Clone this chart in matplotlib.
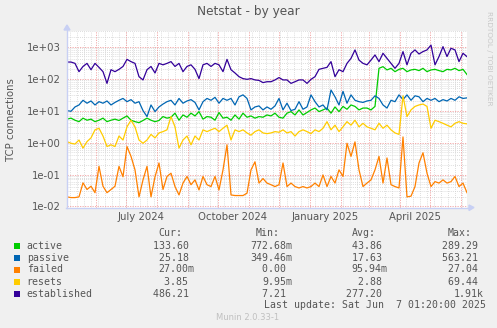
import matplotlib
matplotlib.use('Agg')
import matplotlib.pyplot as plt
import numpy as np
from matplotlib.lines import Line2D
from matplotlib.patches import Polygon, Rectangle

W, H = 497, 328

# 400 days ending at the last update, one sample every 4 days
start = np.datetime64('2024-05-03T01:20')
end = np.datetime64('2025-06-07T01:20')

established = [330, 330, 300, 165, 240, 300, 190, 300, 225, 165, 71, 190, 165, 195, 240, 400, 340, 300, 115, 91, 190, 240, 150, 300, 270,
               300, 340, 240, 300, 165, 240, 270, 195, 100, 270, 300, 240, 300, 270, 165, 400, 190, 150, 115, 100, 95, 100, 91, 88, 75,
               80, 80, 91, 108, 91, 91, 71, 80, 91, 91, 71, 95, 115, 195, 210, 225, 340, 115, 190, 165, 300, 430, 790, 380, 300,
               270, 380, 550, 340, 620, 430, 300, 210, 300, 700, 270, 620, 790, 590, 700, 790, 1120, 270, 490, 1000, 490, 890, 790, 340, 620, 486]
passive = [10, 9.5, 13, 15, 21, 17, 20, 15, 19, 17, 20, 15, 18, 21, 24, 19, 22, 17, 19, 10, 6.5, 15, 9.3, 13, 16,
           19, 21, 15, 24, 17, 20, 22, 18, 10.5, 19, 24, 21, 26, 17, 24, 21, 24, 15, 27, 31, 24, 10.5, 13, 14, 10.5,
           13, 11, 14, 24, 10.5, 17, 10, 11, 19, 11, 13, 31, 19, 13, 15, 10.5, 44, 27, 15, 40, 17, 31, 21, 19, 18,
           20, 21, 29, 24, 15, 12, 21, 19, 31, 22, 31, 21, 29, 27, 19, 24, 21, 24, 19, 22, 20, 24, 21, 27, 24, 25]
active = [5.4, 5.8, 5, 4.5, 5.8, 5, 5.4, 4.5, 5, 5.8, 4.5, 5, 5.4, 4.9, 5.8, 6.8, 5, 4.5, 4.2, 4.9, 5.8, 5, 4.5, 4.9, 6.5,
          5.8, 6.2, 8.3, 5, 7.3, 6.2, 8.3, 6.8, 9.3, 5.4, 6.5, 6.2, 5, 8.7, 5.8, 6.2, 5, 7.3, 5.4, 8.3, 6.2, 6.8, 5.8, 6.5, 6.2,
          7.3, 6.8, 8.3, 6.2, 5.8, 8.3, 9.3, 7.3, 10.5, 7.3, 8.7, 10.5, 12, 9.3, 10.5, 12, 8.3, 13, 9.3, 13.5, 11, 15, 13.5, 10.5, 12,
          12, 10.5, 13.5, 210, 237, 187, 210, 165, 195, 210, 165, 187, 195, 178, 210, 165, 187, 195, 178, 165, 195, 187, 210, 178, 195, 134]
resets = [1.07, 0.95, 0.9, 1.2, 0.67, 1.07, 1.4, 2.5, 2.8, 1.6, 0.75, 0.85, 0.75, 1.6, 1.2, 3.1, 5, 3.1, 1.2, 0.95, 1.2, 1.8, 1.4, 2, 2.2,
          2.5, 6.5, 3.1, 0.67, 1.2, 1.6, 0.85, 1.6, 1.2, 2.5, 2.2, 2.5, 2.8, 2.2, 2.8, 3.5, 1.2, 2.5, 2.2, 2.5, 2.0, 1.7, 2.2, 2.5, 2.0,
          1.9, 2, 2.2, 2.1, 2.5, 2, 2.2, 1.6, 2.2, 2.5, 2.2, 1.9, 2.5, 2.2, 2.8, 4.5, 2.5, 3.5, 2.2, 3.1, 4.5, 3.5, 5, 3.1, 4,
          3.1, 2.8, 2.5, 4, 2.8, 3.5, 2.5, 2, 1.8, 29, 6.5, 10.5, 13.5, 15, 16, 13.5, 2.8, 5, 4.5, 4, 3.5, 3.1, 4, 4.5, 4, 3.85]
failed = [0.02, 0.019, 0.019, 0.02, 0.055, 0.034, 0.043, 0.027, 0.18, 0.043, 0.027, 0.034, 0.043, 0.18, 0.085, 0.75, 0.37, 0.14, 0.02, 0.068, 0.18, 0.02, 0.085, 0.23, 0.034,
          0.087, 0.11, 0.042, 0.023, 0.054, 0.087, 0.048, 0.068, 0.033, 0.087, 0.048, 0.042, 0.087, 0.033, 0.14, 0.85, 0.023, 0.022, 0.022, 0.022, 0.026, 0.14, 0.25, 0.054, 0.075,
          0.054, 0.048, 0.042, 0.048, 0.23, 0.042, 0.054, 0.042, 0.038, 0.042, 0.038, 0.042, 0.054, 0.042, 0.097, 0.042, 0.087, 0.054, 0.14, 0.087, 0.95, 0.37, 1.05, 0.14, 0.042,
          0.054, 0.068, 0.14, 0.37, 0.054, 0.33, 0.048, 0.042, 0.038, 1.5, 0.02, 0.021, 0.042, 0.23, 0.48, 0.11, 0.042, 0.06, 0.054, 0.068, 0.054, 0.06, 0.087, 0.042, 0.054, 0.027]

names = ['active', 'passive', 'failed', 'resets', 'established']
colors = ['#00cc00', '#0066b3', '#ff8000', '#ffcc00', '#330099']
cur = ['133.60 ', '25.18 ', '27.00m', '3.85 ', '486.21 ']
mins = ['772.68m', '349.46m', '0.00 ', '9.95m', '7.21 ']
avgs = ['43.86 ', '17.63 ', '95.94m', '2.88 ', '277.20 ']
maxs = ['289.29 ', '563.21 ', '27.04 ', '69.44 ', '1.91k']

xlabels = ['July 2024', 'October 2024', 'January 2025', 'April 2025']
xlabel_pos = np.array(['2024-07-16', '2024-10-16', '2025-01-16', '2025-04-16'], dtype='datetime64[D]')
decades = [-2, -1, 0, 1, 2, 3]

t = start + np.arange(len(active)) * np.timedelta64(4, 'D')
series = [active, passive, failed, resets, established]

fig = plt.figure(figsize=(W / 100, H / 100), dpi=100, facecolor='#f0f0f0')
ax = fig.add_axes([67 / W, 1 - 207.5 / H, 400 / W, 177 / H])
ax.set_facecolor('white')
ax.set_yscale('log')
ax.set_xlim(start, end)
ax.set_ylim(0.0093, 3.2e3)
for s in ax.spines.values():
    s.set_visible(False)

# grid, rrdtool style
gray = '#d2d2d2'
red = '#f2a0a0'
for d in decades:
    for k in range(2, 10):
        v = k * 10.0 ** d
        if v < 3.2e3:
            ax.axhline(v, color=gray, lw=0.6, ls=(0, (1, 1.5)), zorder=1)
weeks = np.arange(np.datetime64('2024-05-06'), end, np.timedelta64(7, 'D'))
for w in weeks:
    ax.axvline(w, color=gray, lw=0.6, ls=(0, (1, 1.5)), zorder=1)
months = np.arange(np.datetime64('2024-06'), np.datetime64('2025-07'), dtype='datetime64[M]').astype('datetime64[D]')
for m in months:
    ax.axvline(m, color=red, lw=0.6, ls=(0, (1.5, 1.5)), zorder=2)
for d in decades:
    ax.axhline(10.0 ** d, color=red, lw=0.6, ls=(0, (1.5, 1.5)), zorder=2)

for vals, c in zip(series, colors):
    ax.plot(t, vals, color=c, lw=0.9, zorder=3)

ax.set_yticks([10.0 ** d for d in decades])
ax.set_yticklabels(['1e%+03d' % d if d < 0 else '1e+%02d' % d for d in decades])
ax.yaxis.set_minor_locator(matplotlib.ticker.NullLocator())
ax.set_xticks(xlabel_pos)
ax.set_xticklabels(xlabels)
ax.tick_params(length=0, labelsize=7.3, labelcolor='#555555')
ax.tick_params(axis='y', pad=4.5)
ax.tick_params(axis='x', pad=3)


def px(x, y):
    return x / W, 1 - y / H


# axes with arrows
axc = '#c8d0f4'
fig.add_artist(Line2D(*zip(px(67, 208), px(67, 29)), color=axc, lw=1))
fig.add_artist(Line2D(*zip(px(66, 207.5), px(470, 207.5)), color=axc, lw=1))
fig.add_artist(Polygon([px(64, 30), px(70, 30), px(67, 25)], closed=True, color=axc))
fig.add_artist(Polygon([px(469, 205), px(469, 210.5), px(474, 207.5)], closed=True, color=axc))

fig.text(*px(248, 12), 'Netstat - by year', ha='center', va='center', fontsize=8.7, color='#555555')
fig.text(*px(11, 120), 'TCP connections', ha='center', va='center', rotation=90, fontsize=7.3, color='#555555')
fig.text(*px(489, 58), 'RRDTOOL / TOBI OETIKER', ha='center', va='center', rotation=270, fontsize=5.3, color='#c8c8c8')

mono = 'DejaVu Sans Mono'
fs = 7.1
cw = 5.94
txtc = '#555555'
head_y = 233
for lbl, xl in zip(['Cur:', 'Min:', 'Avg:', 'Max:'], [158, 256, 352, 448]):
    fig.text(*px(xl, head_y), lbl, family=mono, fontsize=fs, color=txtc, va='center', ha='left')

row_y = [245.7, 257.7, 269.5, 281.7, 293.7]
col_right = [194.2, 291.8, 387.2, 483.3]
for i, name in enumerate(names):
    y = row_y[i]
    fig.add_artist(Rectangle(px(14, y + 3), 6 / W, 6 / H, facecolor=colors[i], edgecolor='none'))
    fig.text(*px(26.7, y), name, family=mono, fontsize=fs, color=txtc, va='center', ha='left')
    for col, xr in zip([cur, mins, avgs, maxs], col_right):
        s = col[i]
        fig.text(*px(xr - len(s) * cw, y), s, family=mono, fontsize=fs, color=txtc, va='center', ha='left')

upd = 'Last update: Sat Jun  7 01:20:00 2025'
fig.text(*px(483.3 - len(upd) * cw, 305.5), upd, family=mono, fontsize=fs, color=txtc, va='center', ha='left')
fig.text(*px(248, 317.5), 'Munin 2.0.33-1', ha='center', va='center', fontsize=6, color='#c0c0c0')

fig.savefig('out.png', dpi=100, facecolor=fig.get_facecolor())
